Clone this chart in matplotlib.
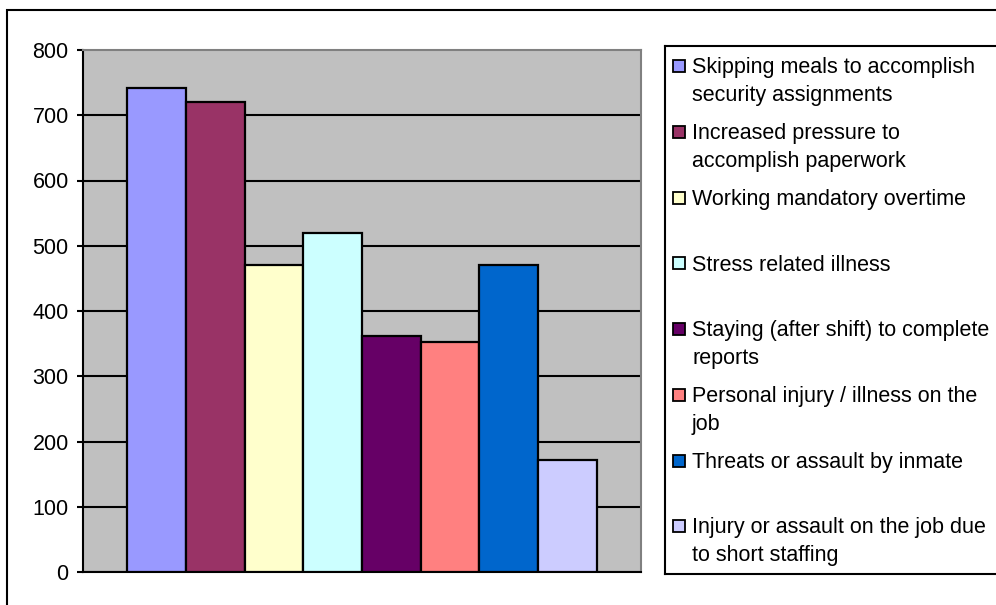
import matplotlib.pyplot as plt
from matplotlib.patches import Rectangle

plt.rcParams['font.family'] = ['Liberation Sans', 'DejaVu Sans']

labels = ["Skipping meals to accomplish\nsecurity assignments",
          "Increased pressure to\naccomplish paperwork",
          "Working mandatory overtime",
          "Stress related illness",
          "Staying (after shift) to complete\nreports",
          "Personal injury / illness on the\njob",
          "Threats or assault by inmate",
          "Injury or assault on the job due\nto short staffing"]
values = [742, 720, 470, 519, 362, 353, 470, 172]
colors = ["#9999FF", "#993366", "#FFFFCC", "#CCFFFF",
          "#660066", "#FF8080", "#0066CC", "#CCCCFF"]
yticks = [0, 100, 200, 300, 400, 500, 600, 700, 800]

W, H = 996, 605
fig = plt.figure(figsize=(W/100, H/100), dpi=100)

# chart area border (cut off on the right and bottom)
fig.add_artist(Rectangle((7/W, -0.1), 1.2, (H-10)/H + 0.1, transform=fig.transFigure,
                         fill=False, lw=1.5, ec="black"))

# plot area
ax = fig.add_axes([83/W, (H-572)/H, 558/W, 522/H])
ax.set_facecolor("#C0C0C0")
ax.bar(range(len(values)), values, width=1.0, color=colors, edgecolor="black", lw=1.6, zorder=3)
ax.set_xlim(-1.25, len(values) + 0.25)
ax.set_ylim(0, 800)
ax.set_yticks(yticks)
ax.set_xticks([])
ax.tick_params(axis="y", direction="out", length=4.3, width=1.5, labelsize=15.5, pad=6)
ax.yaxis.grid(True, color="black", lw=1.5)
ax.get_ygridlines()[-1].set_visible(False)
ax.set_axisbelow(True)
for s in ["left", "bottom"]:
    ax.spines[s].set_color("black")
    ax.spines[s].set_linewidth(1.5)
for s in ["top", "right"]:
    ax.spines[s].set_color("#808080")
    ax.spines[s].set_linewidth(1.5)

# legend box, drawn in pixel coordinates
lg = fig.add_axes([665/W, (H-574)/H, 0.4, 528/H])
lg.set_xlim(665, 665 + 0.4*W)
lg.set_ylim(574, 46)
lg.set_xticks([])
lg.set_yticks([])
for s in lg.spines.values():
    s.set_linewidth(1.5)
step = 65.7
for i, (lab, c) in enumerate(zip(labels, colors)):
    yb = 73.3 + i*step
    lg.add_patch(Rectangle((673, yb - 13), 12, 12, fc=c, ec="black", lw=1.3))
    lg.text(692, yb - 15.8, lab, fontsize=15.5, va="top", ha="left", linespacing=1.42)

fig.savefig("out.png", dpi=100)
